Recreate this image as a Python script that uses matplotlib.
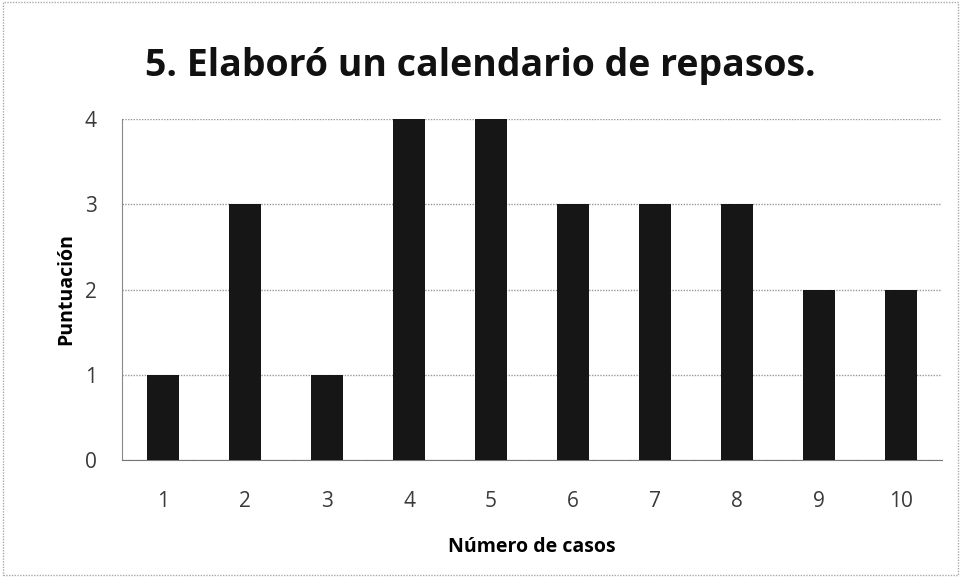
import matplotlib
matplotlib.use("Agg")
import matplotlib.pyplot as plt
from matplotlib.patches import Rectangle

categories = ["1", "2", "3", "4", "5", "6", "7", "8", "9", "10"]
values = [1, 3, 1, 4, 4, 3, 3, 3, 2, 2]
yticks = [0, 1, 2, 3, 4]

plt.rcParams['font.family'] = ['Open Sans', 'DejaVu Sans']

fig = plt.figure(figsize=(9.61, 5.77), dpi=100)
ax = fig.add_axes([122/961, 1 - 460/577, 820/961, 341/577])

x = list(range(len(categories)))
ax.bar(x, values, width=0.4, color="#161616", zorder=3)
ax.set_xlim(-0.5, len(categories) - 0.5)
ax.set_ylim(0, 4)
ax.set_yticks(yticks)
ax.set_yticklabels([str(v) for v in yticks], fontsize=15, color="#3a3a3a")
ax.set_xticks(x)
ax.set_xticklabels(categories, fontsize=15, color="#3a3a3a")
ax.tick_params(axis='y', length=0, pad=18)
ax.tick_params(axis='x', length=0, pad=22)
ax.grid(axis='y', linestyle=(0, (1, 1)), color="#999999", linewidth=1, zorder=0)
for s in ['top', 'right']:
    ax.spines[s].set_visible(False)
ax.spines['left'].set_linestyle((0, (1, 1)))
ax.spines['left'].set_color("#888888")
ax.spines['bottom'].set_linestyle((0, (2, 1)))
ax.spines['bottom'].set_color("#777777")

ax.set_xlabel("Número de casos", fontsize=14, fontweight='bold', labelpad=18)
ax.set_ylabel("Puntuación", fontsize=14, fontweight='bold', labelpad=6)

fig.text(480/961, 1 - 66/577, "5. Elaboró un calendario de repasos.",
         ha='center', va='center', fontsize=27, fontweight='bold', color="#111111")

border = Rectangle((0.003, 0.003), 0.994, 0.994, transform=fig.transFigure,
                   fill=False, edgecolor="#aaaaaa", linewidth=1, linestyle=(0, (1, 1)))
fig.patches.append(border)

fig.savefig("out.png", dpi=100)
